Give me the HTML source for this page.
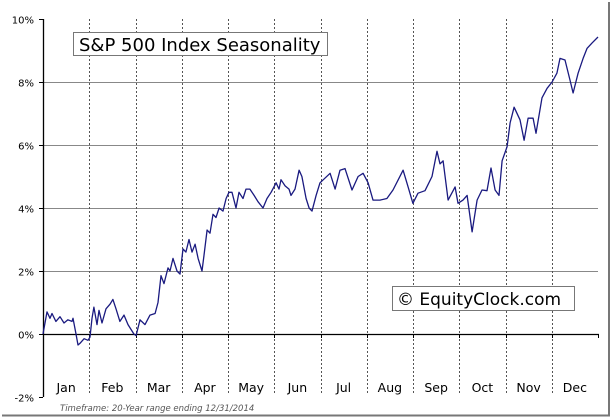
<!DOCTYPE html>
<html><head><meta charset="utf-8"><style>
body{margin:0;background:#fff;width:613px;height:420px;overflow:hidden}
svg{display:block;font-family:"DejaVu Sans","Liberation Sans",sans-serif}
</style></head><body>
<svg id="chart" width="613" height="420" viewBox="0 0 613 420">
<rect x="0" y="0" width="609" height="415" fill="#fff"/>
<line x1="609" y1="2" x2="609" y2="416" stroke="#777" stroke-width="2"/>
<line x1="2" y1="415.5" x2="610" y2="415.5" stroke="#777" stroke-width="2"/>
<g id="grid"></g>
<g id="axes"></g>
<g id="series"></g>
<g>
<rect x="73.5" y="32.5" width="254" height="23" fill="#fff" stroke="#777"/>
<text x="79" y="51" font-size="18" fill="#000">S&amp;P 500 Index Seasonality</text>
</g>
<g>
<rect x="392.5" y="286.5" width="182" height="24" fill="#fff" stroke="#777"/>
<text x="397" y="305" font-size="17" fill="#000">© EquityClock.com</text>
</g>
<text x="60" y="411" font-size="8.5" font-style="italic" fill="#555">Timeframe: 20-Year range ending 12/31/2014</text>
</svg>
<script>
const yTicks=[10,8,6,4,2,0,-2];
const yLabels=["10%","8%","6%","4%","2%","0%","-2%"];
const months=["Jan","Feb","Mar","Apr","May","Jun","Jul","Aug","Sep","Oct","Nov","Dec"];
const days=[0,2.6,4.6,5.9,8.5,11.2,13.8,16.4,19.1,19.7,21.7,23,24.3,27,29.6,30.9,32.2,33.5,35.5,36.8,38.8,41.4,44.1,46,48,50.6,53.3,55.9,59.8,61.2,63.8,67.1,70.4,73.7,75.6,77.6,79.6,82.2,83.5,85.5,88.1,90.1,92.1,94,96,98,100,102,104.6,105.9,107.9,109.8,111.8,113.8,115.8,118.4,120.4,122.3,124.3,126.9,128.9,131.5,133.5,136.1,138.8,141.4,144.7,147.3,150,153.3,155.2,156.5,159.2,161.8,163.1,165.7,168.4,170.3,173,175,176.9,179.6,182.2,188.8,192.1,195.3,198.6,203.2,207.2,210.5,213.8,217,221.6,226.2,230.2,236.8,240.1,243.3,246.6,251.2,255.8,259.1,261.1,263.1,266.4,271,272.9,276.2,278.9,282.2,285.5,288.7,292,294.6,297.3,299.9,301.9,305.2,307.2,309.8,313.7,316.4,319,322.3,324.2,328.2,331.5,334.8,338,340,343.3,346.6,348.6,351.9,355.2,357.8,361.1,365];
const values=[0,0.7,0.5,0.65,0.4,0.55,0.35,0.45,0.4,0.5,0,-0.35,-0.3,-0.15,-0.2,-0.1,0.5,0.85,0.3,0.75,0.35,0.8,0.95,1.1,0.8,0.4,0.6,0.3,0,-0.05,0.45,0.3,0.6,0.65,1.0,1.85,1.6,2.1,2.0,2.4,2.0,1.9,2.7,2.6,3.0,2.6,2.85,2.4,2.0,2.5,3.3,3.2,3.8,3.7,4.0,3.9,4.3,4.5,4.5,4.0,4.5,4.3,4.6,4.6,4.4,4.2,4.0,4.3,4.5,4.8,4.6,4.9,4.7,4.6,4.4,4.6,5.2,5.0,4.3,4.0,3.9,4.4,4.8,5.1,4.6,5.2,5.25,4.57,5.0,5.1,4.8,4.25,4.25,4.3,4.57,5.2,4.67,4.15,4.47,4.55,5.0,5.8,5.4,5.5,4.25,4.67,4.15,4.25,4.4,3.24,4.25,4.57,4.55,5.27,4.57,4.4,5.5,5.95,6.7,7.2,6.8,6.15,6.85,6.85,6.37,7.5,7.8,8.0,8.28,8.75,8.7,8.06,7.65,8.28,8.75,9.07,9.24,9.43];
const X0=43,X1=598,Y10=19,Ybot=397;
const NS="http://www.w3.org/2000/svg";
function xs(d){return X0+(X1-X0)*d/365;}
function ys(v){return Y10+(10-v)*(Ybot-Y10)/12;}
function mk(tag,attrs,parent){const e=document.createElementNS(NS,tag);for(const k in attrs)e.setAttribute(k,attrs[k]);parent.appendChild(e);return e;}
const grid=document.getElementById('grid'),axes=document.getElementById('axes'),series=document.getElementById('series');
yTicks.forEach((t,i)=>{
  const y=Math.round(ys(t))+0.5;
  if(t!==0&&t!==10&&t!==-2){const l=mk('line',{x1:X0,x2:X1,y1:y,y2:y,stroke:'#888','stroke-width':1},grid);
    
    }
  const tk=mk('line',{x1:X0-4,x2:X0,y1:y,y2:y,stroke:'#000'},axes);
  
  
  const tx=mk('text',{x:34,y:y+4,'font-size':10,'text-anchor':'end',fill:'#000'},axes);
  tx.textContent=yLabels[i];
  
  
});
months.forEach((m,i)=>{
  const d0=i*365/12,d1=(i+1)*365/12;
  if(i>0){const x=Math.round(xs(d0))+0.5;
    const l=mk('line',{x1:x,x2:x,y1:Y10,y2:393,stroke:'#555','stroke-dasharray':'2,2'},grid);
    
    }
  const x=Math.round(xs(d1))+0.5;
  const tk=mk('line',{x1:x,x2:x,y1:ys(0),y2:ys(0)+4,stroke:'#000'},axes);
  
  
  const tx=mk('text',{x:xs((d0+d1)/2),y:392,'font-size':12.5,'text-anchor':'middle',fill:'#000'},axes);
  tx.textContent=m;
  
  
});
const z=Math.round(ys(0))+0.5;
const zl=mk('line',{x1:X0,x2:X1+1,y1:z,y2:z,stroke:'#000','stroke-width':1.3},axes);


const ya=mk('line',{x1:X0+0.5,x2:X0+0.5,y1:Y10,y2:Ybot,stroke:'#000','stroke-width':1.3},axes);


const p=mk('polyline',{points:days.map((d,i)=>xs(d).toFixed(1)+','+ys(values[i]).toFixed(1)).join(' '),fill:'none',stroke:'#1a1a80','stroke-width':1.3,'stroke-linejoin':'round'},series);


</script>
</body></html>
